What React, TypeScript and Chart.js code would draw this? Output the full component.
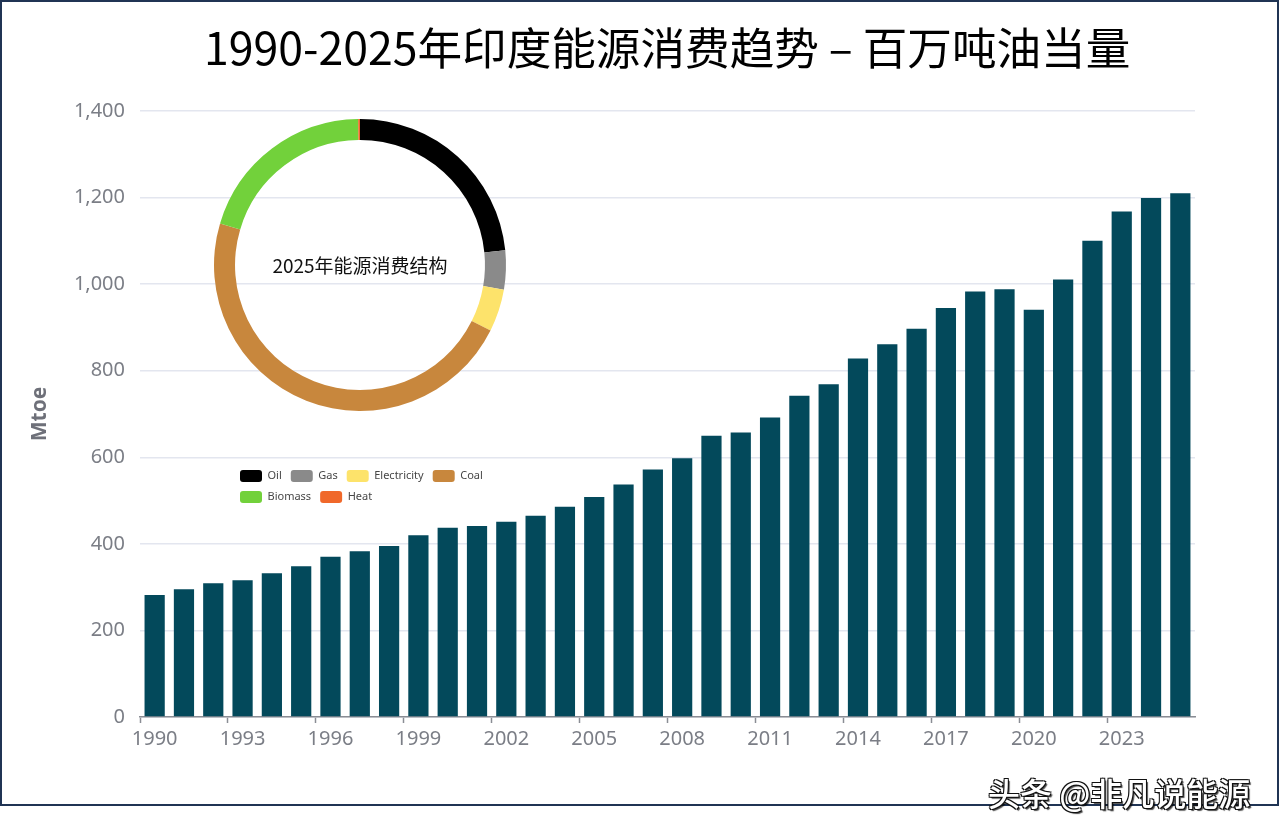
import React, { useEffect, useRef } from 'react';
import { Chart, registerables } from 'chart.js';

Chart.register(...registerables);

// ---------- data ----------
const years = [
  '1990', '1991', '1992', '1993', '1994', '1995', '1996', '1997', '1998', '1999',
  '2000', '2001', '2002', '2003', '2004', '2005', '2006', '2007', '2008', '2009',
  '2010', '2011', '2012', '2013', '2014', '2015', '2016', '2017', '2018', '2019',
  '2020', '2021', '2022', '2023', '2024', '2025',
];
const consumptionMtoe = [
  282, 295, 309, 316, 332, 348, 370, 383, 395, 420,
  437, 441, 451, 465, 486, 508, 537, 572, 598, 650,
  657, 692, 742, 769, 828, 861, 897, 945, 983, 988,
  941, 1011, 1100, 1168, 1199, 1210,
];
const shownYearLabels = ['1990', '1993', '1996', '1999', '2002', '2005', '2008', '2011', '2014', '2017', '2020', '2023'];
const yAxisMin = 0;
const yAxisMax = 1400;
const yAxisStep = 200;

const mixLabels = ['Oil', 'Gas', 'Electricity', 'Coal', 'Biomass', 'Heat'];
const mixShares = [23.4, 4.3, 4.7, 47.2, 20.2, 0.2];
const mixColors = ['#000000', '#8a8a8a', '#fde36b', '#c8873d', '#72d13b', '#f0682a'];

const chartTitle = '1990-2025年印度能源消费趋势 – 百万吨油当量';
const yAxisTitle = 'Mtoe';
const donutCenterLabel = '2025年能源消费结构';
const watermark = '头条 @非凡说能源';

const AXIS_GRAY = '#7b7e86';

export default function App() {
  const barRef = useRef<HTMLCanvasElement | null>(null);
  const donutRef = useRef<HTMLCanvasElement | null>(null);

  useEffect(() => {
    document.body.style.margin = '0';
    if (!barRef.current || !donutRef.current) return;

    const bar = new Chart(barRef.current, {
      type: 'bar',
      data: {
        labels: years,
        datasets: [
          {
            label: 'Mtoe',
            data: consumptionMtoe,
            backgroundColor: '#03495b',
            borderWidth: 0,
            categoryPercentage: 1,
            barPercentage: 0.69,
          },
        ],
      },
      options: {
        responsive: false,
        animation: false,
        events: [],
        layout: { padding: { left: 0, right: 85, top: 111, bottom: 0 } },
        plugins: { legend: { display: false }, tooltip: { enabled: false }, title: { display: false } },
        scales: {
          x: {
            type: 'category',
            offset: true,
            grid: {
              offset: true,
              drawOnChartArea: false,
              drawTicks: true,
              tickLength: 6,
              tickWidth: 1.5,
              tickColor: (ctx: any) => (ctx.index % 3 === 0 ? '#8a8d94' : 'rgba(0,0,0,0)'),
            },
            border: { display: true, color: '#8a8d94', width: 1.5 },
            ticks: {
              autoSkip: false,
              maxRotation: 0,
              minRotation: 0,
              padding: 4,
              color: AXIS_GRAY,
              font: { size: 20, family: '"Noto Sans", sans-serif' },
              callback: function (this: any, value: any) {
                const lab = this.getLabelForValue(value);
                return shownYearLabels.includes(lab) ? lab : '';
              },
            },
            afterFit: (scale: any) => {
              scale.height = 88;
            },
          },
          y: {
            min: yAxisMin,
            max: yAxisMax,
            grid: { color: '#e3e6ef', lineWidth: 1.5, drawTicks: false },
            border: { display: false },
            ticks: {
              stepSize: yAxisStep,
              padding: 15,
              color: AXIS_GRAY,
              font: { size: 20, family: '"Noto Sans", sans-serif' },
            },
            title: {
              display: true,
              text: yAxisTitle,
              color: '#6e7079',
              font: { size: 21, weight: 'bold', family: '"Noto Sans", sans-serif' },
              padding: { top: 27, bottom: 0 },
            },
            afterFit: (scale: any) => {
              scale.width = 140;
            },
          },
        },
      } as any,
    });

    const centerText = {
      id: 'centerText',
      afterDatasetsDraw(chart: any) {
        const { ctx, chartArea } = chart;
        ctx.save();
        ctx.font = '19px "Noto Sans CJK SC", sans-serif';
        ctx.fillStyle = '#111111';
        ctx.textAlign = 'center';
        ctx.textBaseline = 'middle';
        ctx.fillText(donutCenterLabel, (chartArea.left + chartArea.right) / 2, (chartArea.top + chartArea.bottom) / 2 + 1);
        ctx.restore();
      },
    };

    const donut = new Chart(donutRef.current, {
      type: 'doughnut',
      data: {
        labels: mixLabels,
        datasets: [
          {
            data: mixShares,
            backgroundColor: mixColors,
            borderWidth: 0,
            radius: 146,
            cutout: '85.6%',
          } as any,
        ],
      },
      options: {
        responsive: false,
        animation: false,
        events: [],
        layout: { padding: { left: 26, right: 0, top: 0, bottom: 0 } },
        plugins: {
          tooltip: { enabled: false },
          // invisible spacer on the right so the ring stays centred while the legend keeps its width
          title: { display: true, position: 'right', text: '', font: { size: 10, lineHeight: '42px' }, padding: 0 },
          legend: {
            display: true,
            position: 'bottom',
            align: 'start',
            labels: {
              boxWidth: 22,
              boxHeight: 12,
              padding: 9,
              color: '#474747',
              font: { size: 11, family: '"Noto Sans", sans-serif' },
              generateLabels: (chart: any) =>
                chart.data.labels.map((text: string, i: number) => ({
                  text,
                  fillStyle: mixColors[i],
                  strokeStyle: mixColors[i],
                  lineWidth: 0,
                  fontColor: '#474747',
                  borderRadius: 3,
                  hidden: false,
                  index: i,
                })),
            },
          },
        },
      } as any,
      plugins: [centerText],
    });

    return () => {
      bar.destroy();
      donut.destroy();
    };
  }, []);

  return (
    <div style={{ position: 'absolute', left: 0, top: 0, width: 1280, height: 833, background: '#ffffff', overflow: 'hidden' }}>
      <div
        style={{
          position: 'absolute',
          left: 0,
          top: 0,
          width: 1279,
          height: 806,
          border: '2px solid #203454',
          boxSizing: 'border-box',
        }}
      />
      <canvas ref={barRef} width={1280} height={805} style={{ position: 'absolute', left: 0, top: 0 }} />
      <canvas ref={donutRef} width={326} height={444} style={{ position: 'absolute', left: 205, top: 69 }} />
      <div
        style={{
          position: 'absolute',
          left: 204,
          top: 24,
          fontFamily: '"Noto Sans CJK SC", sans-serif',
          fontSize: 44.6,
          lineHeight: '44px',
          color: '#000',
          whiteSpace: 'nowrap',
        }}
      >
        {chartTitle}
      </div>
      <div
        style={{
          position: 'absolute',
          left: 988,
          top: 776,
          fontFamily: '"Noto Sans CJK SC", sans-serif',
          fontSize: 32,
          lineHeight: '32px',
          fontWeight: 500,
          color: '#ffffff',
          whiteSpace: 'nowrap',
          textShadow:
            '1px 1px 0 #111, -1px -1px 0 #111, 1px -1px 0 #111, -1px 1px 0 #111, 2px 2px 1px rgba(0,0,0,0.7)',
        }}
      >
        {watermark}
      </div>
    </div>
  );
}
